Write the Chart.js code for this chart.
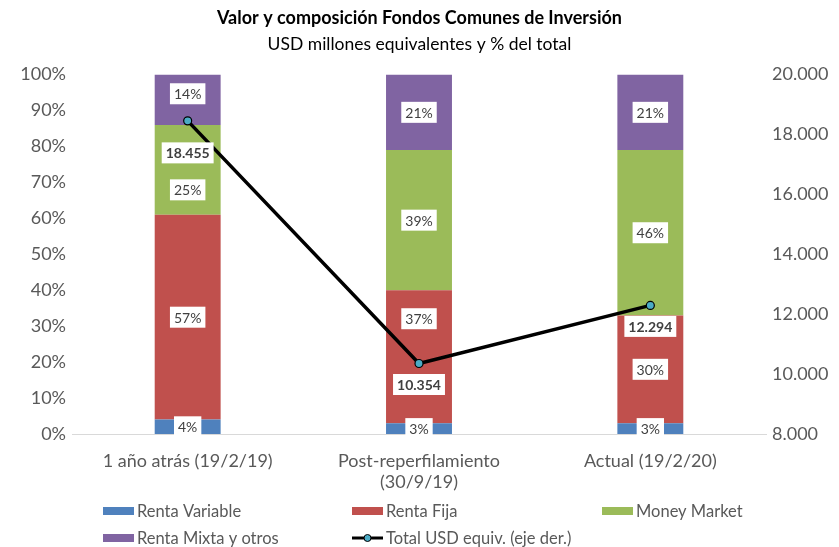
<!DOCTYPE html>
<html>
<head>
<meta charset="utf-8">
<script src="https://cdn.jsdelivr.net/npm/chart.js@4.4.1/dist/chart.umd.min.js"></script>
<style>
html,body{margin:0;padding:0;background:#fff;}
#wrap{width:839px;height:547px;position:relative;}
</style>
</head>
<body>
<div id="wrap"><canvas id="c" width="839" height="547"></canvas></div>
<script>
const categories = [["1 año atrás (19/2/19)"], ["Post-reperfilamiento", "(30/9/19)"], ["Actual (19/2/20)"]];
const rentaVariable = [4, 3, 3];
const rentaFija = [57, 37, 30];
const moneyMarket = [25, 39, 46];
const rentaMixta = [14, 21, 21];
const totalUSD = [18455, 10354, 12294];
const leftTicks = [0, 10, 20, 30, 40, 50, 60, 70, 80, 90, 100];
const rightTicks = [8000, 10000, 12000, 14000, 16000, 18000, 20000];

const FONT = "Lato, 'Liberation Sans', sans-serif";
const TXT = '#595959';

function fmtThousands(v) {
  return String(Math.round(v)).replace(/\B(?=(\d{3})+(?!\d))/g, '.');
}

const labelPlugin = {
  id: 'labels',
  afterDatasetsDraw(chart, args, opts) {
    const ctx = chart.ctx;
    const shifts = opts.shifts || {};
    ctx.save();
    ctx.textAlign = 'center';
    ctx.textBaseline = 'middle';
    chart.data.datasets.forEach((ds, di) => {
      const meta = chart.getDatasetMeta(di);
      meta.data.forEach((el, i) => {
        let text, x, y;
        if (ds.type === 'line') {
          text = fmtThousands(ds.data[i]);
          x = el.x; y = el.y + opts.lineOffset;
          ctx.font = "bold 14px " + FONT;
        } else {
          text = ds.data[i] + '%';
          x = el.x; y = (el.y + el.base) / 2;
          ctx.font = "14px " + FONT;
        }
        y += shifts[di + '-' + i] || 0;
        const w = ctx.measureText(text).width + 8;
        const h = 21;
        ctx.fillStyle = '#ffffff';
        ctx.fillRect(x - w / 2, y - h / 2, w, h);
        ctx.fillStyle = '#404040';
        ctx.fillText(text, x, y + 1);
      });
    });
    ctx.restore();
  }
};

const legendPlugin = {
  id: 'customLegend',
  afterDraw(chart) {
    const ctx = chart.ctx;
    const ds = chart.data.datasets;
    const items = [
      {ds: ds[0], x: 103, y: 511},
      {ds: ds[1], x: 352, y: 511},
      {ds: ds[2], x: 602, y: 511},
      {ds: ds[3], x: 103, y: 538},
      {ds: ds[4], x: 352, y: 538}
    ];
    ctx.save();
    ctx.font = "16.5px " + FONT;
    ctx.textBaseline = 'middle';
    ctx.textAlign = 'left';
    items.forEach(it => {
      if (it.ds.type === 'line') {
        ctx.strokeStyle = '#000';
        ctx.lineWidth = 3;
        ctx.beginPath();
        ctx.moveTo(it.x, it.y);
        ctx.lineTo(it.x + 31, it.y);
        ctx.stroke();
        ctx.beginPath();
        ctx.arc(it.x + 15.5, it.y, 3.5, 0, Math.PI * 2);
        ctx.fillStyle = '#4BACC6';
        ctx.fill();
        ctx.lineWidth = 1;
        ctx.strokeStyle = '#000';
        ctx.stroke();
      } else {
        ctx.fillStyle = it.ds.backgroundColor;
        ctx.fillRect(it.x, it.y - 4, 31, 8);
      }
      ctx.fillStyle = TXT;
      ctx.fillText(it.ds.label, it.x + 34, it.y + 1);
    });
    ctx.restore();
  }
};

new Chart(document.getElementById('c'), {
  data: {
    labels: categories,
    datasets: [
      {type: 'bar', label: 'Renta Variable', data: rentaVariable, backgroundColor: '#4F81BD', yAxisID: 'y', order: 2},
      {type: 'bar', label: 'Renta Fija', data: rentaFija, backgroundColor: '#C0504D', yAxisID: 'y', order: 2},
      {type: 'bar', label: 'Money Market', data: moneyMarket, backgroundColor: '#9BBB59', yAxisID: 'y', order: 2},
      {type: 'bar', label: 'Renta Mixta y otros', data: rentaMixta, backgroundColor: '#8064A2', yAxisID: 'y', order: 2},
      {type: 'line', label: 'Total USD equiv. (eje der.)', data: totalUSD, yAxisID: 'y1', order: 0,
       borderColor: '#000000', borderWidth: 3.5, pointRadius: 4, pointBackgroundColor: '#4BACC6',
       pointBorderColor: '#000000', pointBorderWidth: 1.2, tension: 0, stack: 'line'}
    ]
  },
  options: {
    responsive: false,
    animation: false,
    layout: {padding: {top: 0, bottom: 53, left: 0, right: 0}},
    datasets: {bar: {barPercentage: 0.285, categoryPercentage: 1}},
    plugins: {
      legend: {display: false},
      tooltip: {enabled: false},
      labels: {lineOffset: 21, shifts: {'1-1': -38, '2-0': 20, '3-0': -6, '4-0': 11}},
      title: {display: true, text: 'Valor y composición Fondos Comunes de Inversión',
        color: '#000', font: {family: FONT, size: 18, weight: 'bold'}, padding: {top: 7, bottom: 2}},
      subtitle: {display: true, text: 'USD millones equivalentes y % del total',
        color: '#000', font: {family: FONT, size: 17.5}, padding: {top: 3, bottom: 20}}
    },
    scales: {
      x: {
        stacked: true,
        grid: {display: false, drawTicks: false},
        border: {display: true, color: '#D9D9D9', width: 1},
        ticks: {color: TXT, font: {family: FONT, size: 18}, padding: 16, maxRotation: 0},
        afterFit(s) { s.height = 60; }
      },
      y: {
        stacked: true, position: 'left', min: 0, max: 100,
        afterBuildTicks(s) { s.ticks = leftTicks.map(v => ({value: v})); },
        grid: {display: false, drawTicks: false},
        border: {display: false},
        ticks: {color: TXT, font: {family: FONT, size: 18}, padding: 6, callback: v => v + '%'},
        afterFit(s) { s.width = 72; }
      },
      y1: {
        stacked: false, position: 'right', min: 8000, max: 20000,
        afterBuildTicks(s) { s.ticks = rightTicks.map(v => ({value: v})); },
        grid: {display: false, drawTicks: false},
        border: {display: false},
        ticks: {color: TXT, font: {family: FONT, size: 18}, padding: 6, callback: v => fmtThousands(v)},
        afterFit(s) { s.width = 73; }
      }
    }
  },
  plugins: [labelPlugin, legendPlugin]
});
</script>
</body>
</html>
